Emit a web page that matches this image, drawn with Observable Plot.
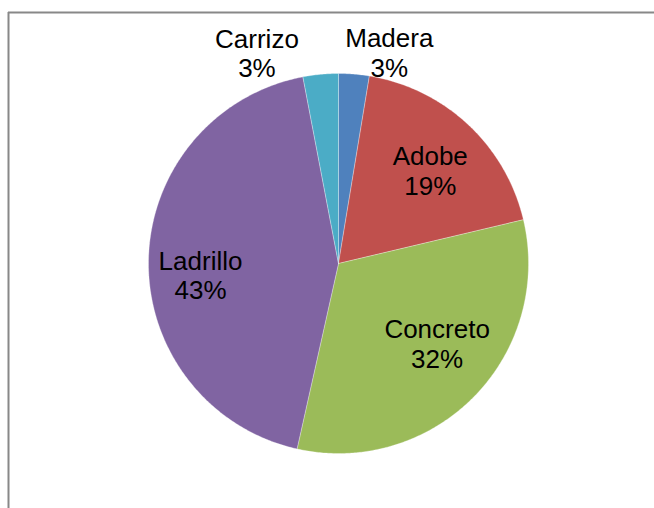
<!DOCTYPE html>
<html>
<head>
<meta charset="utf-8">
<script src="https://cdn.jsdelivr.net/npm/d3@7"></script>
<script src="https://cdn.jsdelivr.net/npm/@observablehq/plot@0.6"></script>
<style>
  html, body { margin: 0; padding: 0; background: #fff; }
  svg { display: block; }
</style>
</head>
<body>
<div id="chart"></div>
<script>
// ---- data ----
const categories = ["Madera", "Adobe", "Concreto", "Ladrillo", "Carrizo"];
const shares = [2.6, 18.7, 32.2, 43.5, 3.0];          // estimated shares (%)
const pctLabels = ["3%", "19%", "32%", "43%", "3%"];   // labels as printed
const colors = ["#4F81BD", "#C0504D", "#9BBB59", "#8064A2", "#4BACC6"];

// ---- layout ----
const W = 654, H = 508;
const CX = 338, CY = 263, R = 190;          // pie centre / radius in px
const BORDER_L = 8, BORDER_T = 12;          // chart-area border
const labelRadius = [1.15, 0.70, 0.70, 0.70, 1.15];
const labelNudge = [[33, 7], [1, 4], [4, -13.5], [-5, 13.5], [-61, 7]]; // px

// pie angles (clockwise from 12 o'clock)
const total = d3.sum(shares);
let acc = 0;
const slices = categories.map((name, i) => {
  const a0 = acc / total * 2 * Math.PI;
  acc += shares[i];
  const a1 = acc / total * 2 * Math.PI;
  const mid = (a0 + a1) / 2;
  return {
    name, a0, a1, mid, color: colors[i], label: `${name}\n${pctLabels[i]}`,
    lx: labelRadius[i] * Math.sin(mid) + labelNudge[i][0] / R,
    ly: labelRadius[i] * Math.cos(mid) - labelNudge[i][1] / R
  };
});

// polygon rows in unit-circle coordinates
function polygon(s) {
  const pts = [{x: 0, y: 0}];
  const n = Math.max(4, Math.ceil((s.a1 - s.a0) / (Math.PI / 360)));
  for (let k = 0; k <= n; k++) {
    const a = s.a0 + (s.a1 - s.a0) * k / n;
    pts.push({x: Math.sin(a), y: Math.cos(a)});
  }
  pts.push({x: 0, y: 0});
  return pts;
}

const xDomain = [-CX / R, (W - CX) / R];
const yDomain = [-(H - CY) / R, CY / R];

const chart = Plot.plot({
  width: W,
  height: H,
  margin: 0,
  x: {domain: xDomain, axis: null},
  y: {domain: yDomain, axis: null},
  style: {fontFamily: "'Liberation Sans', Arial, sans-serif", background: "#fff"},
  marks: [
    ...slices.map(s => Plot.line(polygon(s), {
      x: "x", y: "y", fill: s.color, stroke: "#ffffff", strokeWidth: 0.6, strokeOpacity: 0.5
    })),
    Plot.text(slices, {
      x: "lx",
      y: "ly",
      text: "label",
      fontSize: 26,
      lineHeight: 1.15,
      fill: "#000",
      textAnchor: "middle"
    }),
    Plot.ruleX([(BORDER_L - CX) / R], {y1: yDomain[0], y2: (CY - BORDER_T) / R, stroke: "#888", strokeWidth: 2}),
    Plot.ruleY([(CY - BORDER_T) / R], {x1: (BORDER_L - CX) / R, x2: xDomain[1], stroke: "#888", strokeWidth: 2})
  ]
});
document.getElementById("chart").appendChild(chart);
</script>
</body>
</html>
